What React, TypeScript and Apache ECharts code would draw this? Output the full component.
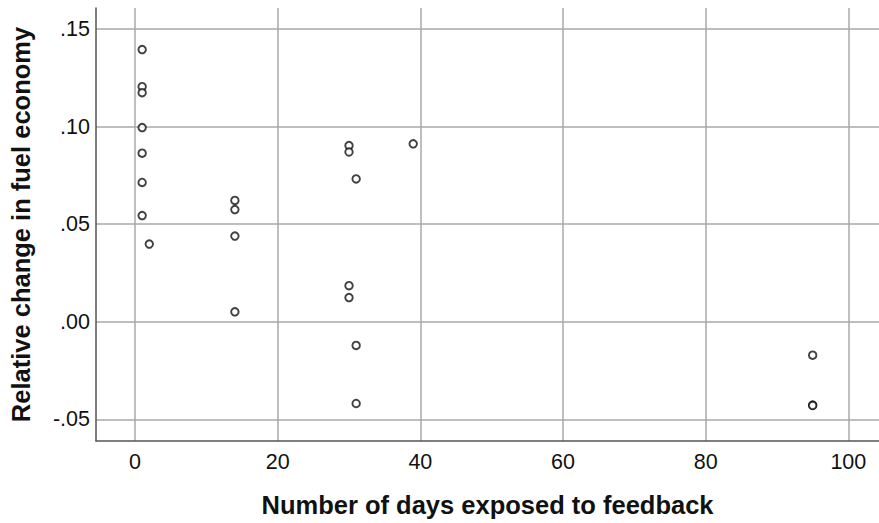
import React, { useEffect, useRef } from "react";
import * as echarts from "echarts";

const days = [1, 1, 1, 1, 1, 1, 1, 2, 14, 14, 14, 14, 30, 30, 31, 39, 30, 30, 31, 31, 95, 95, 95];
const change = [
  0.1395, 0.1205, 0.1174, 0.0995, 0.0864, 0.0714, 0.0544, 0.0398,
  0.0622, 0.0575, 0.0439, 0.0051,
  0.0903, 0.087, 0.0732, 0.0912,
  0.0185, 0.0124, -0.0121, -0.0419,
  -0.0171, -0.0427, -0.0429,
];
const xTicks = [0, 20, 40, 60, 80, 100];
const yTicks = [-0.05, 0, 0.05, 0.1, 0.15];

const xTitle = "Number of days exposed to feedback";
const yTitle = "Relative change in fuel economy";

const fmtY = (v: number) => {
  const s = v.toFixed(2);
  return s.replace(/^(-?)0\./, "$1.");
};

export default function App() {
  const ref = useRef<HTMLDivElement>(null);
  useEffect(() => {
    if (!ref.current) return;
    const chart = echarts.init(ref.current, null, { renderer: "svg" });
    const font = "'Liberation Sans', Arial, sans-serif";
    chart.setOption({
      animation: false,
      backgroundColor: "#fff",
      grid: { left: 96, top: 8, right: 0, bottom: 79, containLabel: false },
      xAxis: {
        type: "value",
        min: -5.47,
        max: 104.3,
        name: xTitle,
        nameLocation: "middle",
        nameGap: 51,
        nameTextStyle: { fontFamily: font, fontSize: 25.5, fontWeight: "bold", color: "#111" },
        axisLine: { show: true, onZero: false, lineStyle: { color: "#555", width: 1.5 } },
        axisTick: { show: false, customValues: xTicks },
        axisLabel: {
          customValues: xTicks,
          fontFamily: font,
          fontSize: 21.5,
          color: "#111",
          margin: 10,
        },
        splitLine: { show: true, lineStyle: { color: "#a8a8a8", width: 1.5 } },
      },
      yAxis: {
        type: "value",
        min: -0.0611,
        max: 0.1608,
        name: yTitle,
        nameLocation: "middle",
        nameGap: 62,
        nameTextStyle: { fontFamily: font, fontSize: 25.5, fontWeight: "bold", color: "#111" },
        axisLine: { show: true, onZero: false, lineStyle: { color: "#555", width: 1.5 } },
        axisTick: { show: false, customValues: yTicks },
        axisLabel: {
          customValues: yTicks,
          formatter: (v: number) => fmtY(v),
          fontFamily: font,
          fontSize: 21.5,
          color: "#111",
          margin: 6,
        },
        splitLine: { show: true, lineStyle: { color: "#a8a8a8", width: 1.5 } },
      },
      series: [
        {
          type: "scatter",
          data: days.map((d, i) => [d, change[i]]),
          symbol: "circle",
          symbolSize: 7.5,
          itemStyle: { color: "#fff", borderColor: "#111", borderWidth: 1.9 },
        },
      ],
    });
    return () => chart.dispose();
  }, []);
  return <div ref={ref} style={{ width: 879, height: 523, position: "absolute", left: 0, top: 0 }} />;
}
